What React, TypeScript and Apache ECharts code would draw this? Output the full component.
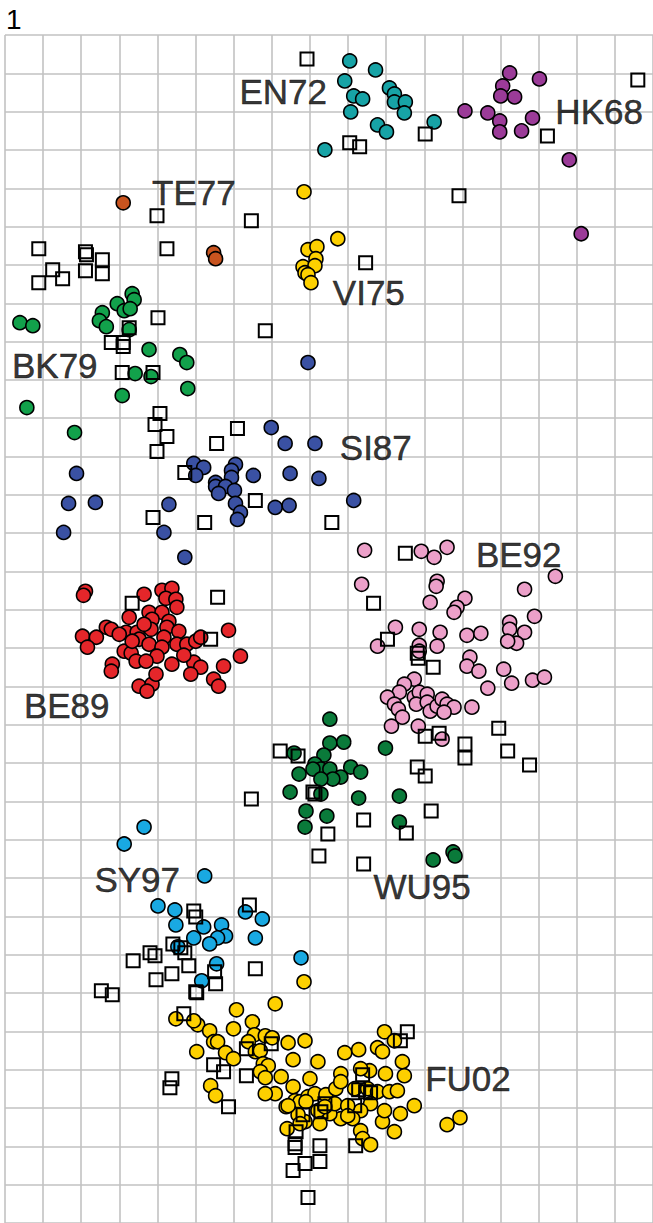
import React, { useEffect, useRef } from "react";
import * as echarts from "echarts";

// Antigenic map coordinates (1 grid cell = 38.37 units), y grows downward
const HK68 = [[508,38],[538,44],[501,51],[499,61],[513,62],[463,76],[486,78],[498,86],[498,97],[520,96],[531,83],[568,125],[580,199]];
const EN72 = [[347,26],[373,35],[342,46],[351,61],[360,64],[387,53],[392,59],[392,67],[403,67],[402,78],[348,77],[375,90],[384,97],[322,115],[432,87]];
const TE77 = [[119,168],[210,218],[212,224]];
const VI75 = [[301,157],[335,204],[305,215],[314,212],[313,224],[300,232],[312,231],[302,238],[305,240],[308,248]];
const BK79 = [[128,259],[130,265],[113,269],[120,276],[126,274],[98,278],[95,286],[102,292],[125,295],[15,288],[28,291],[145,315],[176,320],[183,328],[131,339],[147,342],[118,361],[184,354],[22,373],[70,398]];
const SI87 = [[305,328],[268,393],[282,409],[312,409],[190,429],[200,433],[192,441],[232,430],[228,436],[228,443],[212,448],[212,452],[222,452],[215,459],[231,456],[250,441],[287,439],[316,444],[72,439],[64,469],[91,468],[165,470],[232,469],[237,478],[234,485],[272,473],[286,471],[351,466],[59,498],[160,498],[181,523]];
const BE89 = [[81,557],[79,561],[140,560],[158,556],[168,554],[162,564],[172,565],[173,573],[145,578],[158,578],[125,583],[165,587],[148,585],[102,593],[107,595],[122,598],[133,598],[147,595],[163,593],[175,597],[78,602],[92,603],[83,613],[135,605],[145,610],[160,603],[173,610],[183,610],[192,607],[197,603],[225,596],[120,617],[127,619],[158,613],[153,622],[132,627],[142,627],[168,630],[190,628],[197,633],[237,622],[108,630],[107,637],[187,640],[220,632],[210,645],[215,652],[135,652],[148,650],[143,657],[140,590],[180,621],[128,607],[152,640],[115,600]];
const BE92 = [[362,516],[419,517],[432,523],[445,513],[359,550],[435,547],[434,552],[428,568],[463,564],[455,573],[452,578],[523,555],[554,542],[533,582],[508,588],[508,595],[523,598],[515,609],[506,607],[393,593],[375,612],[417,595],[438,598],[435,612],[417,611],[417,617],[465,601],[479,599],[468,623],[465,632],[477,637],[502,635],[486,654],[510,649],[531,646],[543,643],[412,645],[402,650],[397,658],[385,663],[392,670],[396,675],[412,663],[417,658],[414,670],[425,660],[425,668],[428,677],[435,672],[440,665],[445,670],[452,673],[442,678],[470,673],[400,683],[389,692],[416,692],[440,705]];
const WU95 = [[327,685],[327,709],[341,708],[291,719],[321,721],[312,730],[318,735],[327,735],[310,735],[348,733],[358,738],[338,743],[330,745],[296,740],[318,745],[383,714],[287,758],[318,760],[356,764],[397,762],[303,777],[324,782],[302,793],[397,788],[431,826],[451,818],[453,822]];
const SY97 = [[140,793],[120,810],[201,842],[154,872],[171,876],[172,891],[200,893],[218,891],[222,902],[214,904],[190,904],[206,910],[242,878],[259,885],[252,904],[174,913],[298,924],[213,930],[198,947]];
const FU02 = [[301,948],[172,985],[233,976],[272,970],[194,991],[190,987],[206,997],[230,995],[249,988],[251,1001],[262,1002],[269,1004],[210,1008],[214,1008],[193,1018],[222,1019],[230,1025],[245,1008],[252,1018],[257,1017],[260,1030],[265,1032],[257,1038],[262,1044],[285,1009],[302,1007],[290,1026],[315,1028],[278,1043],[307,1045],[290,1053],[272,1060],[262,1060],[207,1052],[212,1062],[283,1073],[292,1067],[297,1068],[305,1063],[312,1060],[323,1061],[333,1055],[338,1040],[342,1019],[356,1016],[375,1014],[380,1018],[382,998],[392,1007],[400,1028],[402,1042],[383,1040],[367,1037],[358,1035],[338,1048],[352,1055],[365,1055],[375,1058],[387,1058],[395,1057],[412,1072],[398,1080],[380,1088],[392,1098],[382,1077],[368,1070],[358,1077],[350,1085],[338,1085],[327,1080],[315,1077],[317,1090],[302,1088],[295,1081],[285,1072],[284,1095],[358,1097],[360,1105],[368,1111],[445,1091],[458,1084],[332,1070],[345,1072],[322,1073],[303,1068],[297,1090],[345,1082]];
const SERA = [[304,24],[347,108],[357,112],[423,99],[637,45],[546,101],[457,161],[153,181],[248,186],[363,228],[262,296],
  [34,214],[81,217],[82,220],[98,225],[163,214],[48,235],[58,244],[34,248],[81,236],[98,239],[154,283],[125,293],[107,308],[119,308],[119,312],[118,338],[149,338],
  [156,379],[151,390],[163,402],[153,417],[213,409],[234,394],[181,438],[252,466],[201,488],[149,483],[329,488],
  [128,569],[214,563],[207,605],
  [403,519],[371,569],[385,605],[415,619],[416,624],[431,633],[423,702],[437,699],[463,710],[463,724],[497,694],[506,717],[528,731],[415,733],[423,742],
  [277,717],[295,722],[248,765],[310,758],[312,760],[361,786],[325,800],[404,799],[429,777],[316,822],[361,830],
  [246,871],[190,877],[192,883],[169,910],[177,914],[181,919],[146,919],[151,922],[129,927],[185,932],[168,940],[152,946],[211,938],[212,950],[252,935],[97,957],[108,961],[192,958],
  [193,959],[180,980],[243,1015],[268,1010],[210,1031],[220,1038],[243,1042],[168,1045],[166,1054],[225,1073],[360,1041],[363,1058],[368,1059],[356,1056],[352,1072],[322,1070],[318,1078],[300,1081],[293,1098],[292,1110],[292,1114],[317,1112],[317,1128],[302,1130],[290,1137],[353,1112],[405,998],[398,1007],[305,1164]];

const CLUSTER_NAMES = ["EN72","HK68","TE77","VI75","BK79","SI87","BE92","BE89","WU95","SY97","FU02"];
const CLUSTER_LABEL_POS = [[236,57],[554,77],[148,158],[330,258],[7,331],[337,413],[474,520],[19,671],[371,853],[90,846],[423,1045]];

const GROUPS: [string, number[][], string][] = [
  ["HK68", HK68, "#9b3b98"],
  ["EN72", EN72, "#17a3a6"],
  ["TE77", TE77, "#c8541f"],
  ["VI75", VI75, "#fdd000"],
  ["BK79", BK79, "#12a14b"],
  ["SI87", SI87, "#3a51a3"],
  ["BE89", BE89, "#e5262a"],
  ["BE92", BE92, "#eca0c9"],
  ["WU95", WU95, "#0a7a3a"],
  ["SY97", SY97, "#19a9e2"],
  ["FU02", FU02, "#fdd000"],
];

const CELL = 38.37;

export default function App() {
  const ref = useRef<HTMLDivElement>(null);
  useEffect(() => {
    document.body.style.margin = "0";
    const chart = echarts.init(ref.current!, null, { renderer: "svg" });
    const series: any[] = GROUPS.map(([name, data, color]) => ({
      name,
      type: "scatter",
      data,
      symbol: "circle",
      symbolSize: 14,
      itemStyle: { color, borderColor: "#000", borderWidth: 1.6, opacity: 1 },
      z: 2,
    }));
    series.push({
      name: "sera",
      type: "scatter",
      data: SERA,
      symbol: "rect",
      symbolSize: 13,
      itemStyle: { color: "rgba(255,255,255,0)", borderColor: "#000", borderWidth: 2, opacity: 1 },
      z: 3,
    });
    series.push({
      name: "labels",
      type: "scatter",
      data: CLUSTER_LABEL_POS.map((p, i) => [p[0], p[1], CLUSTER_NAMES[i]]),
      symbolSize: 0,
      z: 4,
      label: {
        show: true,
        position: "right",
        distance: 0,
        formatter: (p: any) => p.value[2],
        fontFamily: "Liberation Sans, Arial, sans-serif",
        fontSize: 35,
        color: "#000",
        textBorderColor: "#000",
        textBorderWidth: 0.5,
      },
    });
    chart.setOption({
      animation: false,
      backgroundColor: "#fff",
      title: {
        text: "1",
        left: 1,
        top: 0,
        textStyle: { fontFamily: "Liberation Sans, Arial, sans-serif", fontSize: 28, fontWeight: "normal", color: "#000" },
      },
      grid: { left: 5, top: 35, width: CELL * 17, height: CELL * 31 },
      xAxis: {
        type: "value",
        min: 0,
        max: CELL * 17,
        interval: CELL,
        axisLine: { show: false },
        axisTick: { show: false },
        axisLabel: { show: false },
        splitLine: { show: true, lineStyle: { color: "#c2c2c2", width: 1.6 } },
      },
      yAxis: {
        type: "value",
        inverse: true,
        min: 0,
        max: CELL * 31,
        interval: CELL,
        axisLine: { show: false },
        axisTick: { show: false },
        axisLabel: { show: false },
        splitLine: { show: true, lineStyle: { color: "#c2c2c2", width: 1.6 } },
      },
      tooltip: { show: false },
      series,
    });
    return () => chart.dispose();
  }, []);
  return <div ref={ref} style={{ width: 653, height: 1223, overflow: "hidden" }} />;
}
